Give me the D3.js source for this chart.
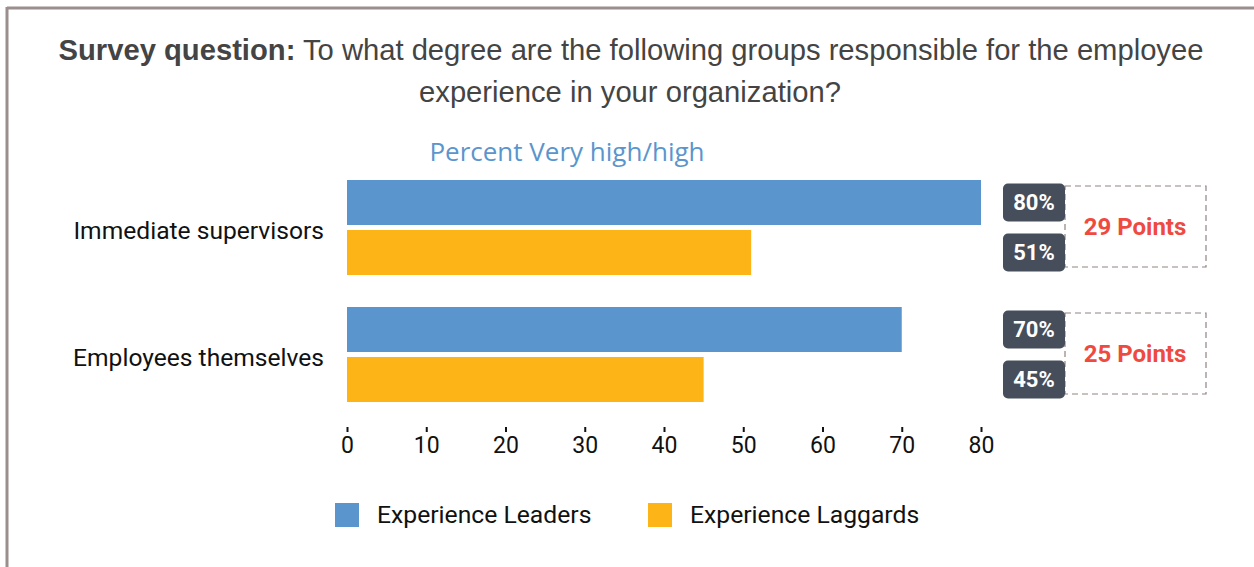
<!DOCTYPE html>
<html>
<head>
<meta charset="utf-8">
<script src="https://cdn.jsdelivr.net/npm/d3@7"></script>
<style>
  body { margin: 0; background: #fff; }
  svg { display: block; }
</style>
</head>
<body>
<svg></svg>
<script>
var categories = ['Immediate supervisors', 'Employees themselves'];
var seriesNames = ['Experience Leaders', 'Experience Laggards'];
var leaders = [80, 70];
var laggards = [51, 45];
var gapLabels = ['29 Points', '25 Points'];
var ticks = [0, 10, 20, 30, 40, 50, 60, 70, 80];

var colors = ['#5b95cd', '#fdb416'];

var width = 1254, height = 567;

var svg = d3.select('svg')
  .attr('width', width)
  .attr('height', height);

// frame
svg.append('line').attr('x1', 7).attr('x2', width).attr('y1', 8).attr('y2', 8)
  .attr('stroke', '#9a8f8d').attr('stroke-width', 3);
svg.append('line').attr('x1', 7).attr('x2', 7).attr('y1', 7).attr('y2', height)
  .attr('stroke', '#9a8f8d').attr('stroke-width', 3);

// title
var title = svg.append('text')
  .attr('x', 631).attr('y', 60)
  .attr('text-anchor', 'middle')
  .style('font-family', 'Liberation Sans, Arial, sans-serif')
  .style('font-size', '29.2px')
  .style('fill', '#444');
title.append('tspan').style('font-weight', 'bold').text('Survey question:');
title.append('tspan').text(' To what degree are the following groups responsible for the employee');
svg.append('text')
  .attr('x', 630).attr('y', 102)
  .attr('text-anchor', 'middle')
  .style('font-family', 'Liberation Sans, Arial, sans-serif')
  .style('font-size', '29.2px')
  .style('fill', '#444')
  .text('experience in your organization?');

svg.append('text')
  .attr('x', 567).attr('y', 161)
  .attr('text-anchor', 'middle')
  .style('font-family', 'Open Sans, sans-serif')
  .style('font-size', '26px')
  .style('fill', '#5b95cd')
  .text('Percent Very high/high');

var x = d3.scaleLinear().domain([0, 80]).range([347, 981]);

var y0 = d3.scaleBand().domain(categories).range([180, 402]).paddingInner(0.252).paddingOuter(0);
var y1 = d3.scaleBand().domain(seriesNames).range([0, y0.bandwidth()]).paddingInner(0.1);

var rows = categories.map(function (c, i) {
  return { cat: c, vals: [leaders[i], laggards[i]], gap: gapLabels[i] };
});

var g = svg.selectAll('.grp')
  .data(rows)
  .enter().append('g')
  .attr('class', 'grp')
  .attr('transform', function (d) { return 'translate(0,' + y0(d.cat) + ')'; });

g.selectAll('rect.bar')
  .data(function (d) { return d.vals.map(function (v, j) { return { v: v, s: seriesNames[j], j: j }; }); })
  .enter().append('rect')
  .attr('class', 'bar')
  .attr('x', x(0))
  .attr('y', function (d) { return y1(d.s); })
  .attr('width', function (d) { return x(d.v) - x(0); })
  .attr('height', y1.bandwidth())
  .attr('fill', function (d) { return colors[d.j]; });

g.append('text')
  .attr('x', 324)
  .attr('y', y0.bandwidth() / 2 + 3)
  .attr('dy', '0.35em')
  .attr('text-anchor', 'end')
  .style('font-family', 'Roboto, sans-serif')
  .style('font-size', '24.6px')
  .style('fill', '#111')
  .text(function (d) { return d.cat; });

// dashed gap box
g.append('rect')
  .attr('x', 1065)
  .attr('y', 6)
  .attr('width', 141)
  .attr('height', 81)
  .attr('fill', 'none')
  .attr('stroke', '#8f8481')
  .attr('stroke-width', 1.2)
  .attr('stroke-dasharray', '6,4');

g.append('text')
  .attr('x', 1135)
  .attr('y', 46.5)
  .attr('dy', '0.35em')
  .attr('text-anchor', 'middle')
  .style('font-family', 'Roboto, sans-serif')
  .style('font-weight', 'bold')
  .style('font-size', '24px')
  .style('fill', '#ef4a3f')
  .text(function (d) { return d.gap; });

var badge = g.selectAll('g.badge')
  .data(function (d) { return d.vals.map(function (v, j) { return { v: v, s: seriesNames[j] }; }); })
  .enter().append('g')
  .attr('class', 'badge')
  .attr('transform', function (d) { return 'translate(1003,' + (y1(d.s) + y1.bandwidth() / 2) + ')'; });

badge.append('rect')
  .attr('x', 0).attr('y', -19)
  .attr('width', 62).attr('height', 38)
  .attr('rx', 5)
  .attr('fill', '#454e5a');

badge.append('text')
  .attr('x', 31).attr('y', 0).attr('dy', '0.36em')
  .attr('text-anchor', 'middle')
  .style('font-family', 'Roboto, sans-serif')
  .style('font-weight', 'bold')
  .style('font-size', '22px')
  .style('fill', '#fff')
  .text(function (d) { return d.v + '%'; });

// axis
var axis = svg.append('g')
  .attr('transform', 'translate(0,427)')
  .call(d3.axisBottom(x).tickValues(ticks).tickSize(5).tickPadding(5));
axis.select('.domain').remove();
axis.selectAll('.tick line').attr('stroke', '#111').attr('stroke-width', 2);
axis.selectAll('.tick text')
  .style('font-family', 'Roboto, sans-serif')
  .style('font-size', '23px')
  .style('fill', '#111');

// legend
var legendX = [335, 648];
var lg = svg.selectAll('.leg')
  .data(seriesNames)
  .enter().append('g')
  .attr('class', 'leg')
  .attr('transform', function (d, i) { return 'translate(' + legendX[i] + ',503)'; });
lg.append('rect').attr('width', 24).attr('height', 24)
  .attr('fill', function (d, i) { return colors[i]; });
lg.append('text')
  .attr('x', 42).attr('y', 11).attr('dy', '0.35em')
  .style('font-family', 'Roboto, sans-serif')
  .style('font-size', '24.7px')
  .style('fill', '#111')
  .text(function (d) { return d; });
</script>
</body>
</html>
